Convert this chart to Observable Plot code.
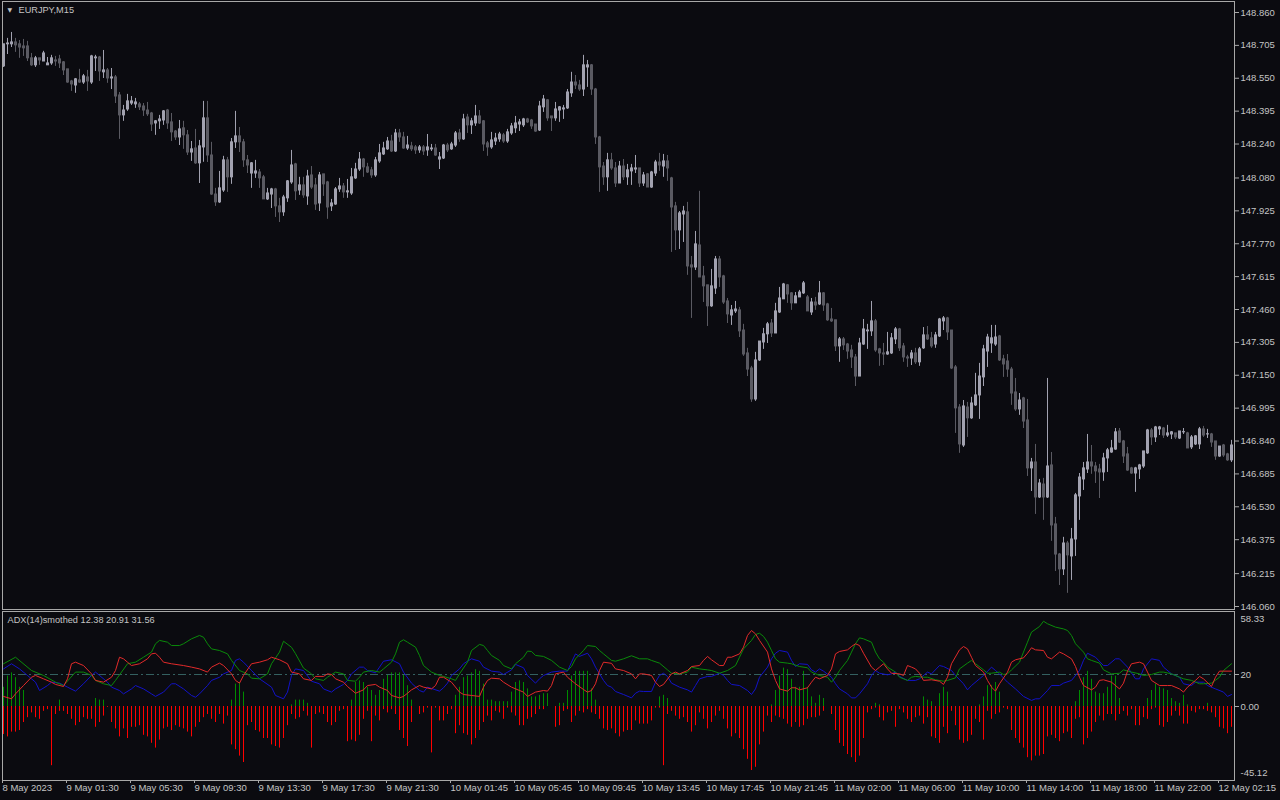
<!DOCTYPE html>
<html><head><meta charset="utf-8">
<script src="https://cdn.jsdelivr.net/npm/d3@7"></script>
<script src="https://cdn.jsdelivr.net/npm/@observablehq/plot@0.6"></script>
<style>
html,body{margin:0;padding:0;background:#0b0b10;}
#wrap{position:relative;width:1280px;height:800px;background:#0b0b10;overflow:hidden;}
#main{position:absolute;left:0;top:0;z-index:2;}
#ind{position:absolute;left:0;top:610px;z-index:1;}
</style></head>
<body><div id="wrap"><div id="main"></div><div id="ind"></div></div>
<script>
// ---- EURJPY M15 candles (bar 0 .. 307) ----
const open = [
148.606,148.710,148.710,148.719,148.710,148.700,148.700,148.644,148.611,148.644,
148.629,148.611,148.620,148.634,148.639,148.625,148.592,148.535,148.516,148.540,
148.530,148.554,148.530,148.644,148.648,148.578,148.587,148.549,148.554,148.469,
148.375,148.403,148.431,148.427,148.427,148.417,148.398,148.384,148.337,148.347,
148.351,148.398,148.342,148.299,148.271,148.314,148.281,148.200,148.219,148.149,
148.224,148.361,148.186,148.002,147.965,148.021,148.163,148.083,148.248,148.276,
148.248,148.163,148.101,148.101,148.106,148.083,147.979,148.002,148.026,147.946,
147.918,147.984,148.059,148.144,148.021,148.045,147.993,148.092,148.045,147.960,
148.097,148.059,147.946,147.955,148.026,148.040,148.012,148.007,148.078,148.120,
148.167,148.130,148.116,148.092,148.158,148.191,148.215,148.252,148.205,148.290,
148.271,148.219,148.229,148.224,148.210,148.224,148.210,148.215,148.219,148.167,
148.172,148.233,148.215,148.233,148.290,148.262,148.365,148.328,148.337,148.370,
148.347,148.243,148.224,148.252,148.262,148.281,148.252,148.290,148.314,148.332,
148.328,148.356,148.351,148.332,148.304,148.413,148.446,148.370,148.361,148.398,
148.403,148.408,148.479,148.530,148.516,148.497,148.601,148.611,148.497,148.271,
148.134,148.083,148.163,148.125,148.054,148.134,148.083,148.111,148.120,148.125,
148.054,148.097,148.035,148.101,148.153,148.134,148.158,148.078,147.946,147.833,
147.908,147.918,147.668,147.658,147.762,147.616,147.574,147.475,147.559,147.696,
147.616,147.498,147.432,147.451,147.456,147.361,147.253,147.182,147.036,147.220,
147.305,147.343,147.394,147.347,147.446,147.508,147.574,147.536,147.489,147.517,
147.536,147.517,147.446,147.493,147.484,147.536,147.484,147.413,147.409,147.286,
147.319,147.295,147.267,147.234,147.144,147.295,147.357,147.357,147.404,147.272,
147.253,147.248,147.253,147.319,147.366,147.286,147.234,147.229,147.253,147.211,
147.277,147.338,147.324,147.295,147.333,147.404,147.418,147.361,147.187,146.998,
146.819,146.998,146.947,147.008,147.055,147.140,147.262,147.300,147.295,147.333,
147.225,147.215,147.177,147.069,146.989,147.041,146.937,146.711,146.739,146.574,
146.635,146.574,146.725,146.447,146.305,146.235,146.357,146.296,146.376,146.579,
146.659,146.706,146.739,146.720,146.706,146.692,146.758,146.786,146.800,146.885,
146.838,146.777,146.711,146.687,146.706,146.720,146.782,146.890,146.857,146.895,
146.899,146.866,146.871,146.876,146.852,146.881,146.876,146.810,146.824,146.824,
146.895,146.871,146.871,146.838,146.767,146.819,146.777,146.749];
const high = [
148.710,148.738,148.766,148.738,148.728,148.733,148.724,148.667,148.653,148.644,
148.677,148.648,148.658,148.653,148.658,148.629,148.592,148.540,148.549,148.592,
148.568,148.587,148.658,148.658,148.653,148.681,148.596,148.596,148.563,148.483,
148.422,148.474,148.464,148.455,148.436,148.431,148.436,148.389,148.351,148.375,
148.398,148.403,148.384,148.304,148.351,148.347,148.304,148.252,148.309,148.257,
148.441,148.441,148.248,148.031,148.111,148.182,148.177,148.266,148.394,148.318,
148.262,148.186,148.153,148.163,148.120,148.092,148.031,148.031,148.031,147.984,
147.998,148.068,148.210,148.149,148.083,148.083,148.116,148.134,148.078,148.106,
148.097,148.064,147.979,148.035,148.078,148.054,148.073,148.125,148.149,148.200,
148.172,148.149,148.130,148.177,148.238,148.248,148.271,148.281,148.309,148.309,
148.295,148.276,148.248,148.233,148.233,148.233,148.285,148.238,148.238,148.200,
148.238,148.243,148.248,148.299,148.309,148.380,148.380,148.361,148.422,148.398,
148.351,148.252,148.295,148.290,148.295,148.290,148.309,148.337,148.370,148.356,
148.361,148.361,148.356,148.332,148.441,148.469,148.450,148.370,148.436,148.417,
148.422,148.497,148.578,148.563,148.540,148.658,148.634,148.615,148.502,148.276,
148.153,148.196,148.196,148.153,148.158,148.167,148.144,148.144,148.186,148.125,
148.106,148.101,148.111,148.163,148.196,148.191,148.186,148.083,147.965,147.922,
147.946,147.965,147.710,147.828,148.017,147.663,147.574,147.649,147.710,147.710,
147.621,147.512,147.479,147.498,147.470,147.390,147.277,147.192,147.258,147.309,
147.371,147.399,147.413,147.489,147.564,147.583,147.578,147.540,147.540,147.550,
147.592,147.526,147.512,147.517,147.592,147.540,147.489,147.465,147.409,147.328,
147.328,147.300,147.291,147.248,147.324,147.413,147.390,147.498,147.413,147.277,
147.300,147.352,147.347,147.375,147.371,147.300,147.244,147.267,147.277,147.281,
147.375,147.380,147.352,147.352,147.418,147.427,147.423,147.361,147.196,147.012,
147.031,147.022,147.046,147.159,147.206,147.291,147.343,147.385,147.385,147.338,
147.244,147.248,147.187,147.135,147.064,147.046,147.036,146.758,146.824,146.659,
146.664,147.135,146.786,146.480,146.310,146.386,146.367,146.428,146.593,146.687,
146.739,146.871,146.819,146.739,146.730,146.782,146.805,146.843,146.899,146.899,
146.843,146.810,146.716,146.716,146.730,146.791,146.895,146.899,146.909,146.909,
146.904,146.914,146.885,146.876,146.885,146.899,146.881,146.866,146.866,146.904,
146.909,146.895,146.876,146.838,146.814,146.824,146.782,146.843];
const low = [
148.601,148.662,148.695,148.672,148.644,148.653,148.629,148.606,148.601,148.611,
148.629,148.611,148.611,148.606,148.596,148.563,148.526,148.488,148.479,148.526,
148.521,148.488,148.521,148.582,148.535,148.549,148.526,148.497,148.431,148.262,
148.347,148.394,148.422,148.408,148.398,148.370,148.370,148.299,148.281,148.309,
148.328,148.309,148.252,148.257,148.233,148.215,148.186,148.158,148.144,148.054,
148.154,148.153,147.998,147.946,147.960,148.012,148.012,148.050,148.219,148.200,
148.130,148.101,148.031,148.078,148.031,147.979,147.974,147.936,147.894,147.870,
147.899,147.965,148.050,147.974,147.998,147.984,147.951,148.026,147.927,147.922,
147.993,147.885,147.922,147.951,148.012,147.984,147.984,147.998,148.073,148.111,
148.083,148.101,148.078,148.083,148.149,148.186,148.210,148.200,148.200,148.248,
148.215,148.210,148.205,148.191,148.196,148.186,148.182,148.205,148.182,148.120,
148.167,148.200,148.210,148.224,148.248,148.257,148.290,148.285,148.323,148.332,
148.205,148.182,148.215,148.233,148.248,148.243,148.243,148.281,148.290,148.299,
148.318,148.337,148.309,148.295,148.299,148.389,148.347,148.299,148.347,148.342,
148.356,148.403,148.460,148.497,148.488,148.464,148.507,148.469,148.238,148.012,
148.045,148.017,148.116,148.035,148.054,148.068,148.045,148.045,148.101,148.035,
148.040,148.035,148.031,148.087,148.111,148.083,148.064,147.729,147.738,147.743,
147.776,147.621,147.418,147.644,147.611,147.493,147.380,147.470,147.531,147.564,
147.484,147.394,147.385,147.441,147.328,147.239,147.144,147.022,147.027,147.215,
147.272,147.300,147.328,147.347,147.441,147.508,147.489,147.456,147.489,147.517,
147.531,147.451,147.432,147.456,147.479,147.451,147.404,147.399,147.262,147.211,
147.267,147.225,147.182,147.097,147.144,147.291,147.272,147.333,147.258,147.192,
147.196,147.244,147.248,147.295,147.262,147.211,147.187,147.196,147.201,147.192,
147.272,147.314,147.277,147.277,147.328,147.361,147.314,147.177,146.876,146.782,
146.810,146.857,146.942,147.003,146.942,147.097,147.187,147.253,147.286,147.215,
147.140,147.140,147.008,146.980,146.961,146.899,146.673,146.602,146.494,146.569,
146.466,146.569,146.367,146.225,146.159,146.206,146.122,146.183,146.296,146.466,
146.607,146.687,146.683,146.640,146.569,146.650,146.692,146.782,146.796,146.829,
146.734,146.697,146.683,146.598,146.659,146.711,146.777,146.819,146.833,146.866,
146.852,146.857,146.847,146.847,146.847,146.871,146.805,146.800,146.819,146.800,
146.857,146.852,146.810,146.749,146.763,146.763,146.744,146.739];
const close = [
148.710,148.714,148.719,148.705,148.695,148.691,148.644,148.611,148.644,148.634,
148.667,148.620,148.644,148.629,148.620,148.587,148.530,148.521,148.545,148.530,
148.559,148.535,148.653,148.648,148.582,148.587,148.549,148.554,148.464,148.375,
148.398,148.441,148.441,148.436,148.413,148.398,148.380,148.332,148.347,148.356,
148.394,148.337,148.295,148.271,148.309,148.281,148.200,148.215,148.149,148.229,
148.361,148.186,148.002,147.965,148.031,148.163,148.083,148.248,148.276,148.248,
148.163,148.139,148.149,148.111,148.078,147.979,148.007,148.026,147.946,147.918,
147.988,148.064,148.139,148.017,148.045,147.998,148.087,148.035,147.955,148.092,
148.050,147.941,147.960,148.026,148.040,148.012,148.017,148.083,148.120,148.167,
148.130,148.106,148.092,148.163,148.196,148.219,148.252,148.205,148.290,148.271,
148.219,148.233,148.215,148.210,148.224,148.205,148.224,148.219,148.186,148.177,
148.233,148.210,148.238,148.290,148.262,148.356,148.328,148.347,148.370,148.337,
148.238,148.224,148.257,148.266,148.285,148.252,148.295,148.323,148.337,148.342,
148.356,148.342,148.323,148.299,148.417,148.450,148.361,148.361,148.403,148.413,
148.408,148.483,148.530,148.516,148.497,148.611,148.611,148.497,148.271,148.130,
148.083,148.163,148.125,148.054,148.134,148.083,148.116,148.125,148.125,148.054,
148.092,148.035,148.106,148.153,148.139,148.158,148.125,147.941,147.833,147.913,
147.922,147.663,147.658,147.767,147.611,147.569,147.475,147.569,147.696,147.611,
147.493,147.437,147.456,147.460,147.357,147.248,147.177,147.036,147.220,147.309,
147.343,147.390,147.347,147.451,147.512,147.578,147.531,147.489,147.522,147.540,
147.583,147.451,147.493,147.479,147.536,147.479,147.409,147.404,147.286,147.319,
147.291,147.262,147.234,147.144,147.300,147.366,147.361,147.404,147.267,147.253,
147.248,147.258,147.324,147.366,147.277,147.234,147.229,147.253,147.211,147.272,
147.338,147.319,147.286,147.338,147.413,147.418,147.352,147.182,146.994,146.824,
147.003,146.947,147.017,147.055,147.144,147.272,147.328,147.324,147.328,147.220,
147.201,147.177,147.064,146.989,147.031,146.932,146.711,146.739,146.574,146.640,
146.574,146.720,146.442,146.305,146.235,146.357,146.301,146.376,146.584,146.668,
146.711,146.739,146.720,146.697,146.692,146.758,146.796,146.805,146.881,146.833,
146.767,146.701,146.687,146.711,146.725,146.791,146.890,146.857,146.904,146.904,
146.866,146.876,146.881,146.857,146.885,146.882,146.805,146.857,146.862,146.895,
146.866,146.872,146.833,146.767,146.814,146.772,146.749,146.819];

// ---- price axis labels ----
const priceTicks = [148.860,148.705,148.550,148.395,148.240,148.080,147.925,147.770,147.615,
  147.460,147.305,147.150,146.995,146.840,146.685,146.530,146.375,146.215,146.060];

// ---- time axis labels (bar index, text) ----
const timeBars = [0,16,32,48,64,80,96,112,128,144,160,176,192,208,224,240,256,272,288,304];
const timeLabels = ["8 May 2023","9 May 01:30","9 May 05:30","9 May 09:30","9 May 13:30",
  "9 May 17:30","9 May 21:30","10 May 01:45","10 May 05:45","10 May 09:45","10 May 13:45",
  "10 May 17:45","10 May 21:45","11 May 02:00","11 May 06:00","11 May 10:00","11 May 14:00",
  "11 May 18:00","11 May 22:00","12 May 02:15"];

// ---- ADX indicator: lines read as [bar, value] ----
const lineGreen = [[0,26.7],[3,30.8],[7,22.5],[10,19.4],[13,15.2],[15,13.1],[18,21.5],[20,21.5],[22,19.4],[23,16.3],[25,14.2],[27,13.1],[28,16.3],[31,26.7],[33,27.7],[35,30.8],[37,34.0],[38,39.2],[39,41.3],[41,40.2],[42,38.1],[44,38.1],[45,39.2],[47,42.3],[49,44.4],[50,43.3],[51,39.2],[52,36.0],[54,35.0],[56,32.9],[57,28.8],[59,22.5],[61,20.4],[62,17.7],[64,17.3],[66,20.4],[67,26.7],[69,34.0],[70,40.8],[72,37.0],[73,33.0],[75,24.0],[77,20.4],[78,17.3],[80,16.3],[81,18.3],[83,21.5],[85,20.4],[86,16.3],[88,15.8],[89,18.3],[90,21.5],[92,22.5],[94,21.5],[95,23.5],[97,27.7],[98,32.9],[99,40.2],[100,41.7],[101,40.2],[103,37.1],[104,31.9],[105,25.6],[107,21.5],[109,19.4],[110,18.8],[112,17.3],[113,16.3],[114,20.4],[116,27.7],[117,35.0],[119,38.8],[120,38.1],[121,35.0],[122,31.9],[124,28.8],[125,25.6],[127,23.5],[128,26.7],[130,30.8],[131,34.6],[132,34.4],[133,31.9],[135,31.3],[137,28.8],[139,24.6],[141,22.5],[142,25.0],[143,29.8],[145,35.0],[146,38.1],[148,37.5],[149,35.0],[150,32.9],[152,28.8],[153,28.3],[155,29.8],[157,31.7],[159,29.8],[161,29.8],[162,28.8],[164,27.1],[166,22.9],[167,20.8],[169,20.4],[171,21.5],[172,24.6],[174,23.5],[176,22.9],[177,22.5],[179,20.8],[181,22.5],[183,25.6],[184,30.8],[185,36.0],[187,41.3],[188,45.0],[189,45.8],[190,43.8],[191,40.2],[192,35.0],[193,29.8],[194,27.7],[196,27.1],[197,26.7],[199,25.0],[201,24.2],[202,21.5],[204,19.4],[206,18.3],[207,15.2],[208,18.3],[209,22.5],[211,28.8],[212,34.0],[213,39.2],[214,42.9],[215,42.3],[217,40.2],[218,34.0],[219,29.8],[220,27.7],[221,24.6],[223,21.5],[224,18.3],[226,16.3],[227,18.3],[228,18.8],[230,18.3],[231,18.3],[233,16.7],[235,15.8],[236,16.3],[238,17.9],[239,23.5],[241,27.1],[242,28.8],[243,26.7],[245,22.9],[246,20.8],[247,20.8],[249,21.5],[250,20.0],[251,20.4],[252,22.9],[254,27.7],[255,34.0],[256,40.2],[257,46.5],[259,50.0],[260,53.3],[261,51.7],[263,49.6],[265,48.5],[266,47.5],[267,44.4],[268,39.2],[270,34.0],[271,29.8],[272,28.8],[274,27.1],[275,22.9],[277,20.4],[279,20.8],[280,22.9],[282,21.5],[284,20.4],[285,19.4],[287,20.0],[289,21.5],[290,21.5],[292,20.4],[294,18.3],[295,17.3],[297,16.3],[299,14.2],[300,14.2],[302,14.6],[304,18.3],[305,22.5],[307,26.7]];
const lineRed = [[0,6.3],[2,4.8],[3,7.9],[5,13.1],[7,18.3],[8,19.4],[10,17.3],[12,15.2],[13,13.8],[15,12.5],[16,17.3],[17,26.7],[18,27.7],[20,25.6],[22,20.4],[23,16.3],[25,15.2],[27,18.3],[28,22.5],[29,30.8],[30,29.8],[31,27.7],[32,25.6],[34,26.7],[36,29.8],[37,32.9],[38,33.3],[39,30.8],[40,27.7],[42,26.7],[45,25.6],[47,24.6],[49,23.5],[51,21.5],[52,24.6],[54,27.1],[55,25.6],[57,20.4],[58,16.3],[59,14.6],[60,19.4],[62,26.7],[64,27.7],[66,29.2],[67,30.8],[69,29.2],[71,26.7],[72,21.5],[74,20.4],[75,17.3],[77,16.3],[78,18.8],[80,18.8],[81,20.4],[82,20.0],[83,17.3],[85,15.2],[86,12.5],[88,8.3],[90,10.4],[91,13.1],[93,13.8],[94,12.1],[96,10.0],[97,6.9],[99,5.4],[100,6.3],[101,8.3],[102,10.4],[104,13.1],[105,12.1],[107,11.0],[108,13.1],[109,18.3],[110,18.3],[112,15.2],[114,9.0],[115,7.5],[117,6.9],[119,6.3],[120,12.1],[121,16.3],[122,17.7],[124,17.3],[125,15.2],[127,12.1],[129,10.0],[130,9.0],[131,6.3],[133,9.0],[135,10.0],[136,9.6],[137,13.1],[138,20.4],[140,21.5],[141,18.3],[143,14.2],[145,10.6],[146,9.0],[147,10.0],[148,14.2],[149,22.5],[150,27.7],[152,27.0],[153,23.5],[155,22.5],[157,20.4],[158,17.3],[159,20.4],[160,20.4],[162,19.4],[163,15.2],[164,12.5],[165,13.8],[167,20.4],[168,21.5],[169,20.4],[171,22.5],[172,25.0],[174,25.6],[175,28.8],[176,31.3],[177,29.2],[179,25.6],[180,25.6],[181,30.8],[182,30.8],[184,32.9],[185,37.1],[186,44.4],[187,47.5],[188,45.4],[189,41.3],[191,34.0],[192,23.5],[193,16.3],[194,11.0],[196,9.6],[197,11.7],[198,11.7],[199,10.4],[201,11.7],[202,15.2],[203,18.3],[204,17.3],[206,19.4],[207,23.5],[208,32.9],[209,34.4],[211,35.4],[212,37.5],[213,39.2],[214,38.1],[215,33.3],[217,24.6],[218,22.5],[219,24.6],[220,26.7],[221,23.5],[222,20.8],[224,20.4],[225,19.4],[226,25.6],[227,24.6],[228,23.5],[229,20.8],[230,16.3],[232,16.7],[234,15.8],[235,13.8],[236,18.3],[237,26.7],[239,35.4],[240,37.5],[241,36.0],[242,30.8],[243,25.6],[245,21.5],[246,16.3],[247,12.1],[248,9.6],[249,14.2],[251,21.5],[252,27.7],[253,29.2],[255,30.4],[256,33.3],[257,36.7],[258,35.4],[260,35.0],[261,30.8],[262,29.8],[264,34.0],[265,32.9],[267,29.8],[268,25.0],[269,18.3],[270,13.1],[272,10.4],[273,12.1],[274,16.3],[275,16.7],[277,15.2],[279,11.0],[280,14.6],[281,22.1],[282,26.7],[284,27.7],[285,26.7],[286,21.5],[287,16.3],[289,13.1],[291,13.1],[292,13.1],[294,11.0],[295,9.0],[296,12.1],[298,16.3],[299,18.8],[300,17.3],[302,12.5],[303,18.3],[304,22.1],[305,22.1],[307,22.1]];
const lineBlue = [[0,23.5],[2,26.7],[4,23.5],[6,19.4],[8,15.2],[9,10.0],[11,13.1],[12,15.2],[14,14.6],[16,12.1],[18,9.6],[20,14.2],[22,19.4],[23,21.5],[24,19.4],[26,15.2],[27,12.1],[29,10.0],[30,7.9],[32,11.0],[33,13.1],[35,11.0],[37,7.9],[38,6.3],[40,9.0],[42,14.2],[43,14.2],[45,11.0],[47,6.9],[48,5.8],[49,7.9],[51,13.1],[52,16.3],[54,18.3],[55,20.4],[57,22.5],[58,28.8],[59,29.8],[60,27.7],[62,22.5],[64,17.3],[67,12.1],[68,6.9],[70,4.8],[71,9.0],[72,19.4],[73,23.5],[75,22.5],[77,15.8],[79,14.2],[80,11.0],[82,9.0],[83,11.0],[85,13.8],[86,16.3],[87,20.4],[89,24.6],[90,24.6],[91,22.5],[93,21.0],[94,24.6],[95,28.3],[97,29.2],[99,26.7],[100,21.5],[102,14.6],[104,10.0],[105,9.0],[106,12.1],[109,9.6],[110,11.7],[111,14.6],[112,19.4],[114,23.5],[115,26.7],[116,28.3],[117,29.8],[119,28.3],[120,24.6],[122,22.1],[124,21.5],[125,20.0],[127,22.9],[128,26.3],[130,24.2],[131,19.4],[133,14.6],[134,17.3],[135,19.4],[137,21.5],[139,22.1],[141,22.1],[142,27.7],[143,32.9],[144,31.3],[146,33.3],[147,29.8],[148,24.6],[150,16.3],[151,13.1],[152,12.1],[153,9.4],[155,7.5],[157,5.4],[158,8.3],[159,9.6],[160,9.4],[162,9.4],[163,15.2],[164,19.4],[165,20.8],[166,18.8],[167,14.6],[169,12.1],[171,10.4],[172,9.0],[173,13.1],[174,17.3],[176,18.8],[177,18.8],[179,20.8],[180,19.4],[181,16.3],[182,13.8],[184,13.1],[186,10.0],[187,7.5],[188,11.0],[189,18.3],[191,24.6],[192,29.8],[193,33.3],[194,35.0],[196,34.0],[197,28.8],[198,25.0],[199,26.7],[201,26.3],[202,22.9],[203,21.5],[204,23.5],[205,22.1],[207,18.3],[208,14.2],[209,11.0],[211,7.9],[212,5.4],[213,5.4],[214,7.9],[216,14.2],[217,19.4],[218,22.5],[219,20.8],[221,19.8],[222,20.4],[223,21.5],[224,18.8],[226,16.3],[228,16.3],[229,17.3],[231,21.5],[232,20.4],[234,25.6],[235,25.0],[237,22.5],[238,19.4],[240,14.2],[241,10.4],[242,13.1],[244,17.3],[245,19.4],[247,24.6],[248,22.5],[249,20.4],[251,15.2],[253,11.0],[255,6.3],[257,3.8],[258,4.8],[259,4.8],[261,10.0],[262,13.1],[264,13.1],[265,14.6],[267,16.3],[269,22.5],[270,28.8],[271,33.3],[273,30.8],[275,25.6],[276,25.6],[278,29.8],[279,29.8],[281,24.6],[283,17.3],[284,17.3],[285,23.5],[287,29.8],[289,28.8],[290,24.6],[292,20.4],[294,18.3],[295,14.2],[297,13.1],[298,15.2],[300,15.2],[301,13.1],[303,11.0],[305,9.0],[306,6.3],[307,7.5]];

// ---- ADX histograms ----
const redHist = [
-17.5,-19,-16,-16,-15,-10,-7,-4,-7,-8,
-3,-2,-37,-5,-3,-3,-5,-8,-12,-10,
-7,-8,-8,-13,-10,-6,-0.5,-10,-14,-19,
-14,-20,-13,-13,-12,-18,-19,-23,-26,-21,
-14,-13,-15,-12,-13,-14,-16,-19,-13,-10,
-7,-5,-8,-10,-5,-11,-6,-24,-27,-31,
-35,-12,-10,-15,-16,-20,-20,-24,-25,-26,
-20,-12,-5,-8,-7,-3,-6,-26,-5,-4,
-5,-10,-12,-10,-3,-2,-22,-21,-22,-18,
-8,-3,-22,-6,-9,-2,-4,-2,-5,-15,
-20,-25,-10,0,-5,-4,-1,-29,-1,-9,
-9,-5,-2,-17,-12,-17,-18,-24,-20,-15,
-10,-6,-9,-3,-4,-8,-1,-4,-6,-12,
-12,-8,-7,-5,-2,-2,0,0,-13,-12,
-3,-2,-10,-6,-3,-4,-2,-4,-5,-8,
-14,-15,-14,-17,-19,-16,-15,-15,-9,-11,
-11,-11,-9,-1,-1,-37,-5,-3,-6,-8,
-7,-10,-16,-12,-4,-8,-14,-10,-6,-3,
-8,-14,-19,-17,-20,-27,-33,-40,-38,-24,
-16,-6,-10,-6,-7,-8,-11,-13,-10,-13,
-12,-8,-7,-7,-6,-3,0,-5,-15,-23,
-25,-30,-32,-35,-31,-20,-4,-2,-1,-7,
-9,-4,-3,-13,-2,-4,-8,-10,-7,-6,
-11,-7,-19,-20,-23,-13,-17,-3,-12,-21,
-23,-22,-18,-8,-10,-21,-3,-8,-5,-4,
-1,-2,-15,-20,-23,-26,-32,-34,-31,-31,
-30,-19,-18,-20,-22,-17,-16,-20,-8,-7,
-24,-20,-16,-10,-6,-9,-5,-5,-9,-5,
-3,-6,-2,-12,-12,-7,-8,-2,-1,-12,
-13,-10,-6,-3,-6,-11,-11,-3,-4,-2,
-2,-3,-4,-7,-13,-14,-17,-13];
const greenHist = [[0,12],[1,19],[2,21],[3,18],[4,12],[5,10],[14,4],[23,5],[24,4],[25,4],[57,4],[58,14],[59,15],[60,9],[72,1],[73,4],[74,4],[75,4],[76,2],[87,4],[88,15],[89,16],[90,15],[91,12],[92,10],[93,7],[94,10],[95,17],[96,20],[97,21],[98,21],[99,21],[100,20],[101,13],[102,4],[113,7],[114,12],[115,18],[116,19],[117,21],[118,23],[119,22],[120,14],[121,4],[122,4],[123,3],[124,3],[125,3],[126,3],[127,9],[128,15],[129,16],[130,15],[131,11],[132,6],[133,6],[134,7],[135,8],[136,8],[139,2],[140,2],[141,10],[142,19],[143,22],[144,22],[145,22],[146,22],[147,11],[148,4],[164,6],[165,7],[166,5],[192,1],[193,10],[194,19],[195,24],[196,23],[197,17],[198,12],[199,12],[200,22],[201,12],[202,6],[203,2],[204,7],[205,5],[218,2],[219,1],[230,6],[231,4],[232,3],[234,8],[235,12],[236,9],[244,1],[245,6],[246,13],[247,13],[248,15],[249,9],[268,3],[269,10],[270,18],[271,22],[272,17],[273,9],[274,8],[275,8],[276,12],[277,19],[278,19],[279,5],[286,5],[287,10],[288,14],[289,12],[290,11],[291,10],[292,5],[293,3],[294,2],[295,7],[296,1],[301,2]];
const levelValue = 20;
const indMidTicks = [20, 0];
const indTopLabel = [58.33];
const indBottomLabel = [-45.12];

// ---- build ----
const N = close.length;
const candles = close.map((c, i) => ({i, o: open[i], h: high[i], l: low[i], c,
  top: Math.max(open[i], c), bot: Math.min(open[i], c), up: c >= open[i]}));
const bulls = candles.filter(d => d.up), bears = candles.filter(d => !d.up);
const BULL = "#a2a2b0", BEAR = "#5a5a62";
const FG = "#c4c4c4", FRAME = "#a8a8a8";
const FONT = "'Liberation Sans', Arial, sans-serif";
const AXFS = 9.5, TITLEFS = 9.2;
const xScale = {type: "linear", domain: [0, N - 1], range: [3, 3 + 4 * (N - 1)], axis: null};

const main = Plot.plot({
  width: 1280, height: 610,
  marginLeft: 2, marginRight: 46, marginTop: 1, marginBottom: 1,
  style: {background: "#0b0b10", color: FG, fontFamily: FONT, fontSize: "10px", overflow: "visible"},
  x: xScale,
  y: {type: "linear", domain: [146.060, 148.860], range: [606, 12], axis: null},
  marks: [
    Plot.ruleX(bears, {x: "i", y1: "l", y2: "h", stroke: BEAR}),
    Plot.ruleX(bulls, {x: "i", y1: "l", y2: "h", stroke: BULL}),
    Plot.ruleX(bears, {x: "i", y1: "top", y2: "bot", stroke: BEAR, strokeWidth: 3, insetTop: -0.5, insetBottom: -0.5}),
    Plot.ruleX(bulls, {x: "i", y1: "top", y2: "bot", stroke: BULL, strokeWidth: 3, insetTop: -0.5, insetBottom: -0.5}),
    Plot.frame({stroke: FRAME}),
    Plot.axisY({ticks: priceTicks, anchor: "right", label: null, tickSize: 4, tickPadding: 2,
      tickFormat: d => d.toFixed(3), stroke: FRAME, fill: FG, fontSize: AXFS}),
    Plot.text(["\u25BC"], {frameAnchor: "top-left", dx: 5, dy: 9, textAnchor: "start", lineAnchor: "middle",
      fontSize: 6, fill: FG, fontFamily: "DejaVu Sans"}),
    Plot.text(["EURJPY,M15"], {frameAnchor: "top-left", dx: 16, dy: 9, textAnchor: "start", lineAnchor: "middle",
      fontSize: TITLEFS, fill: FG})
  ]
});
document.getElementById("main").append(main);

const gh = greenHist.map(([i, v]) => ({i, v}));
const rh = redHist.map((v, i) => ({i, v}));
const ind = Plot.plot({
  width: 1280, height: 190,
  marginLeft: 2, marginRight: 46, marginTop: 1, marginBottom: 20,
  style: {background: "transparent", color: FG, fontFamily: FONT, fontSize: "10px"},
  x: xScale,
  y: {type: "linear", domain: [0, 20], range: [96, 64], axis: null},
  marks: [
    Plot.ruleX(rh, {x: "i", y1: 0, y2: "v", stroke: "#ff0000"}),
    Plot.ruleX(gh, {x: "i", y1: 0, y2: "v", stroke: "#008c00"}),
    Plot.ruleY([levelValue], {stroke: "#346060", strokeDasharray: "8,3,2,3"}),
    Plot.line(lineBlue, {x: d => d[0], y: d => d[1], stroke: "#1212c8", strokeWidth: 1}),
    Plot.line(lineGreen, {x: d => d[0], y: d => d[1], stroke: "#0a8a0a", strokeWidth: 1}),
    Plot.line(lineRed, {x: d => d[0], y: d => d[1], stroke: "#e22a2a", strokeWidth: 1}),
    Plot.frame({stroke: FRAME}),
    Plot.axisY({ticks: indMidTicks, anchor: "right", label: null, tickSize: 4, tickPadding: 2,
      tickFormat: d => (d === 0 ? "0.00" : String(d)), stroke: FRAME, fill: FG, fontSize: AXFS}),
    Plot.text(indTopLabel, {y: d => d, text: d => d.toFixed(2), frameAnchor: "right", dx: 6, dy: 6,
      textAnchor: "start", lineAnchor: "middle", fill: FG, fontSize: AXFS}),
    Plot.text(indBottomLabel, {y: d => d, text: d => d.toFixed(2), frameAnchor: "right", dx: 6, dy: -6,
      textAnchor: "start", lineAnchor: "middle", fill: FG, fontSize: AXFS}),
    Plot.axisX({ticks: timeBars, anchor: "bottom", label: null, tickSize: 3, tickPadding: 1,
      tickFormat: d => timeLabels[timeBars.indexOf(d)], textAnchor: "start", dx: -1,
      stroke: FRAME, fill: FG, fontSize: AXFS}),
    Plot.text(["ADX(14)smothed 12.38 20.91 31.56"], {frameAnchor: "top-left", dx: 5, dy: 9,
      textAnchor: "start", lineAnchor: "middle", fontSize: TITLEFS, fill: FG})
  ]
});
document.getElementById("ind").append(ind);
</script>
</body></html>
